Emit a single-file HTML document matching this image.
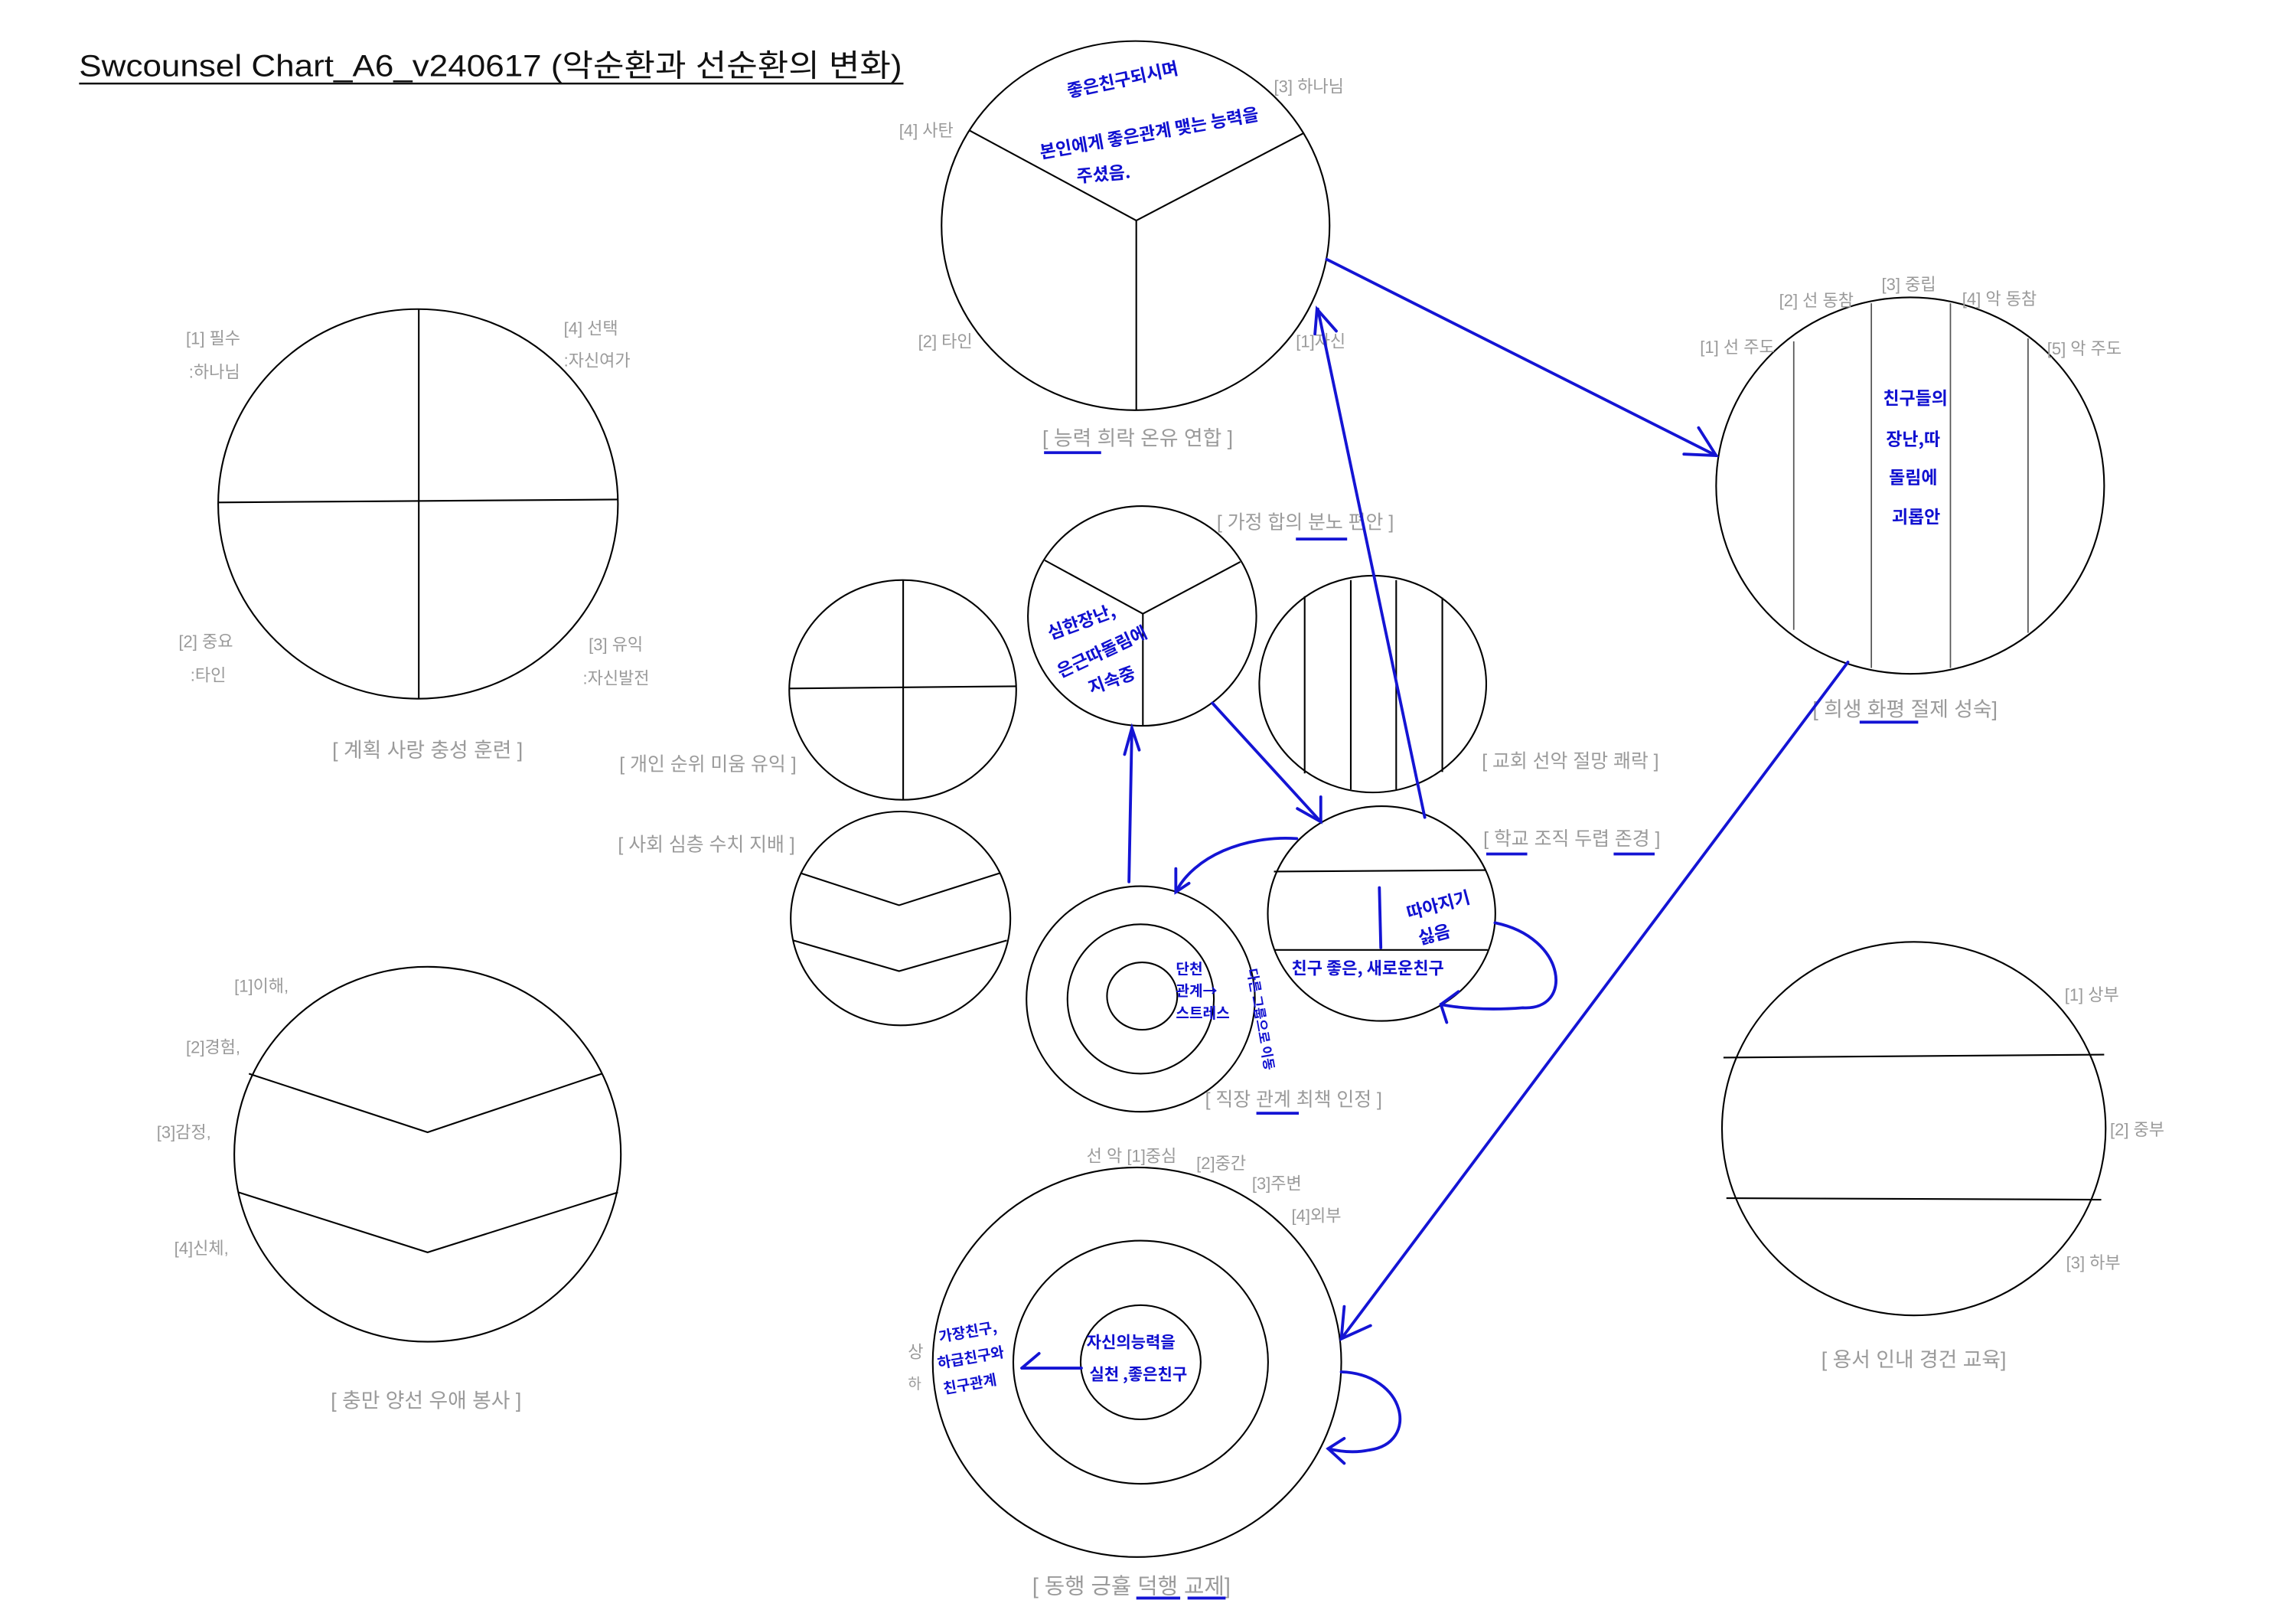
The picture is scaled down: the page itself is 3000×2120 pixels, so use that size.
<!DOCTYPE html>
<html><head><meta charset="utf-8"><style>
html,body{margin:0;padding:0;background:#fff;}
svg{display:block;}
text{font-family:"Liberation Sans","Noto Sans CJK KR",sans-serif;}
.g{fill:#9a9a9a;font-size:11.5px;}
.c{fill:#9a9a9a;font-size:14px;}
.h{fill:#1010d0;font-family:"Noto Sans CJK KR","NanumGothic",sans-serif;font-weight:bold;font-size:12px;}
.k{fill:none;stroke:#000;stroke-width:1.1;}
.b{fill:none;stroke:#1414d4;stroke-width:2;stroke-linecap:round;}
.u{stroke:#1414d4;stroke-width:2;}
</style></head><body>
<svg width="3000" height="2120" viewBox="0 0 1568 1108" xmlns="http://www.w3.org/2000/svg">
<rect width="1568" height="1108" fill="#fff"/>
<text x="54" y="52" style="font-size:21px;fill:#111" textLength="562" lengthAdjust="spacingAndGlyphs">Swcounsel Chart_A6_v240617 (악순환과 선순환의 변화)</text>
<line x1="54" y1="57" x2="617" y2="57" stroke="#111" stroke-width="1.3"/>

<!-- top circle -->
<ellipse class="k" cx="775.5" cy="154" rx="132.5" ry="126"/>
<polyline class="k" points="662,89 776,150.5 890,91"/>
<line class="k" x1="776" y1="150.5" x2="776" y2="280"/>
<text class="g" x="614" y="93">[4] 사탄</text>
<text class="g" x="870" y="63">[3] 하나님</text>
<text class="g" x="627" y="237">[2] 타인</text>
<text class="g" x="885" y="237">[1]자신</text>
<text class="c" x="777" y="304" text-anchor="middle">[ 능력 희락 온유 연합 ]</text>
<line class="u" x1="713" y1="309" x2="752" y2="309"/>
<text class="h" x="728" y="60" transform="rotate(-12 760 55)">좋은친구되시며</text>
<text class="h" x="708" y="95" transform="rotate(-10 785 85)">본인에게 좋은관계 맺는 능력을</text>
<text class="h" x="735" y="122" transform="rotate(-5 765 117)">주셨음.</text>

<!-- left top circle -->
<ellipse class="k" cx="285.5" cy="344" rx="136.5" ry="133"/>
<line class="k" x1="286" y1="211" x2="286" y2="477"/>
<line class="k" x1="149" y1="343" x2="422" y2="341"/>
<text class="g" x="127" y="235">[1] 필수</text>
<text class="g" x="129" y="258">:하나님</text>
<text class="g" x="385" y="228">[4] 선택</text>
<text class="g" x="385" y="250">:자신여가</text>
<text class="g" x="122" y="442">[2] 중요</text>
<text class="g" x="130" y="465">:타인</text>
<text class="g" x="402" y="444">[3] 유익</text>
<text class="g" x="398" y="467">:자신발전</text>
<text class="c" x="292" y="517" text-anchor="middle">[ 계획 사랑 충성 훈련 ]</text>

<!-- right top circle -->
<ellipse class="k" cx="1304.5" cy="331.5" rx="132.5" ry="128.5"/>
<g stroke="#555" stroke-width="0.9">
<line x1="1225" y1="233" x2="1225" y2="430"/>
<line x1="1278" y1="207" x2="1278" y2="456"/>
<line x1="1332" y1="207" x2="1332" y2="456"/>
<line x1="1385" y1="231" x2="1385" y2="432"/>
</g>
<text class="g" x="1215" y="209">[2] 선 동참</text>
<text class="g" x="1285" y="198">[3] 중립</text>
<text class="g" x="1340" y="208">[4] 악 동참</text>
<text class="g" x="1161" y="241">[1] 선 주도</text>
<text class="g" x="1398" y="242">[5] 악 주도</text>
<text class="h" x="1286" y="276">친구들의</text>
<text class="h" x="1288" y="304">장난,따</text>
<text class="h" x="1290" y="330">돌림에</text>
<text class="h" x="1292" y="357">괴롭안</text>
<text class="c" x="1301" y="489" text-anchor="middle">[ 희생 화평 절제 성숙]</text>
<line class="u" x1="1270" y1="493" x2="1310" y2="493"/>

<!-- small circles -->
<ellipse class="k" cx="616.5" cy="471" rx="77.5" ry="75"/>
<line class="k" x1="616.8" y1="396" x2="616.8" y2="546"/>
<line class="k" x1="539" y1="470" x2="694" y2="468.5"/>

<ellipse class="k" cx="780" cy="420.5" rx="78" ry="75"/>
<polyline class="k" points="713.5,382.5 780.5,419 847,383.6"/>
<line class="k" x1="780.5" y1="419" x2="780.5" y2="495.5"/>
<text class="h" x="713" y="428" transform="rotate(-20 740 420)">심한장난,</text>
<text class="h" x="718" y="450" transform="rotate(-25 750 442)">은근따돌림에</text>
<text class="h" x="742" y="470" transform="rotate(-20 755 463)">지속중</text>

<ellipse class="k" cx="937.5" cy="467" rx="77.5" ry="74"/>
<g class="k">
<line x1="891" y1="407" x2="891" y2="528"/>
<line x1="922.5" y1="396" x2="922.5" y2="539"/>
<line x1="953.5" y1="396" x2="953.5" y2="539"/>
<line x1="985" y1="408" x2="985" y2="527"/>
</g>

<ellipse class="k" cx="615" cy="627" rx="75" ry="73"/>
<polyline class="k" points="546.5,596 614,618 683,596"/>
<polyline class="k" points="541.8,642 614,663 687.6,642"/>

<ellipse class="k" cx="779" cy="682" rx="78" ry="77"/>
<ellipse class="k" cx="779" cy="682" rx="50" ry="51"/>
<ellipse class="k" cx="780" cy="680" rx="24" ry="23"/>
<text class="h" x="803" y="665" style="font-size:10px">단천</text>
<text class="h" x="803" y="680" style="font-size:10px">관계→</text>
<text class="h" x="803" y="695" style="font-size:10px">스트레스</text>
<text class="h" x="834" y="657" style="font-size:9px" transform="rotate(80 840 670)">다른 그룹으로 이동</text>

<ellipse class="k" cx="943.5" cy="623.7" rx="77.7" ry="73.3"/>
<line class="k" x1="870" y1="595" x2="1015" y2="594"/>
<line class="k" x1="870" y1="648.5" x2="1016" y2="648.5"/>
<line class="b" x1="942" y1="606" x2="943" y2="647"/>
<text class="h" x="960" y="624" transform="rotate(-15 975 618)">따아지기</text>
<text class="h" x="968" y="642" transform="rotate(-15 980 636)">싫음</text>
<text class="h" x="882" y="665" style="font-size:11.5px">친구 좋은, 새로운친구</text>

<text class="c" x="831" y="361" style="font-size:13px">[ 가정 합의 분노 편안 ]</text>
<line class="u" x1="885" y1="368" x2="920" y2="368"/>
<text class="c" x="423" y="526" style="font-size:13px">[ 개인 순위 미움 유익 ]</text>
<text class="c" x="1012" y="524" style="font-size:13px">[ 교회 선악 절망 쾌락 ]</text>
<text class="c" x="422" y="581" style="font-size:13px">[ 사회 심층 수치 지배 ]</text>
<text class="c" x="1013" y="577" style="font-size:13px">[ 학교 조직 두렵 존경 ]</text>
<line class="u" x1="1015" y1="583" x2="1043" y2="583"/>
<line class="u" x1="1102" y1="583" x2="1130" y2="583"/>
<text class="c" x="823" y="755" style="font-size:13px">[ 직장 관계 최책 인정 ]</text>
<line class="u" x1="858" y1="760" x2="887" y2="760"/>

<!-- bottom left -->
<ellipse class="k" cx="292" cy="788" rx="132" ry="128"/>
<polyline class="k" points="170,733 292,773 411,733"/>
<polyline class="k" points="163,814 292,855 422,814"/>
<text class="g" x="160" y="677">[1]이해,</text>
<text class="g" x="127" y="719">[2]경험,</text>
<text class="g" x="107" y="777">[3]감정,</text>
<text class="g" x="119" y="856">[4]신체,</text>
<text class="c" x="291" y="961" text-anchor="middle">[ 충만 양선 우애 봉사 ]</text>

<!-- bottom right -->
<ellipse class="k" cx="1307" cy="770.5" rx="131" ry="127.5"/>
<line class="k" x1="1177" y1="722" x2="1437" y2="720"/>
<line class="k" x1="1179" y1="818" x2="1435" y2="819"/>
<text class="g" x="1410" y="683">[1] 상부</text>
<text class="g" x="1441" y="775">[2] 중부</text>
<text class="g" x="1411" y="866">[3] 하부</text>
<text class="c" x="1307" y="933" text-anchor="middle">[ 용서 인내 경건 교육]</text>

<!-- bottom center -->
<ellipse class="k" cx="776.5" cy="930" rx="139.5" ry="133"/>
<ellipse class="k" cx="779" cy="930" rx="87" ry="83"/>
<ellipse class="k" cx="779" cy="930" rx="41" ry="39"/>
<text class="g" x="742" y="793">선  악 [1]중심</text>
<text class="g" x="817" y="798">[2]중간</text>
<text class="g" x="855" y="812">[3]주변</text>
<text class="g" x="882" y="834">[4]외부</text>
<text class="g" x="620" y="927">상</text>
<text class="g" x="620" y="948" style="font-size:10px">하</text>
<text class="c" x="705" y="1088" style="font-size:15px">[ 동행 긍휼 덕행 교제]</text>
<line class="u" x1="776" y1="1091" x2="806" y2="1091"/>
<line class="u" x1="811" y1="1091" x2="837" y2="1091"/>
<text class="h" x="742" y="920" style="font-size:11px">자신의능력을</text>
<text class="h" x="744" y="942" style="font-size:11px">실천 ,좋은친구</text>
<text class="h" x="641" y="913" style="font-size:10px" transform="rotate(-10 660 910)">가장친구,</text>
<text class="h" x="640" y="930" style="font-size:10px" transform="rotate(-10 665 927)">하급친구와</text>
<text class="h" x="644" y="948" style="font-size:10px" transform="rotate(-10 665 945)">친구관계</text>

<!-- blue arrows -->
<g class="b">
<line x1="906" y1="177" x2="1172" y2="311"/>
<polyline points="1160,292 1172,311 1150,310"/>
<line x1="973" y1="558" x2="900" y2="211"/>
<polyline points="912.6,226 899.4,211 898,228"/>
<line x1="828" y1="480" x2="902" y2="561"/>
<polyline points="902,544 902,561 886,552"/>
<line x1="771" y1="602" x2="773" y2="497"/>
<polyline points="768,515 773,497 778,512"/>
<path d="M885.6,572.5 C850,570 815,585 803,609"/>
<polyline points="803,593 803,609 812,603"/>
<path d="M1021,630 C1070,640 1075,690 1040,688 C1015,690 995,688 984,685.7"/>
<polyline points="988,698 984,685.7 996,677"/>
<line x1="1262" y1="452" x2="916" y2="914"/>
<polyline points="936,905 916,914 918,892"/>
<path d="M916,936.6 C960,938 970,985 935,990 C925,992 915,991 907,989"/>
<polyline points="918,999 907,989 918,982"/>
<line x1="738.5" y1="934" x2="697.8" y2="934"/>
<polyline points="709.6,924 697.8,934"/>
</g>
</svg>
</body></html>
